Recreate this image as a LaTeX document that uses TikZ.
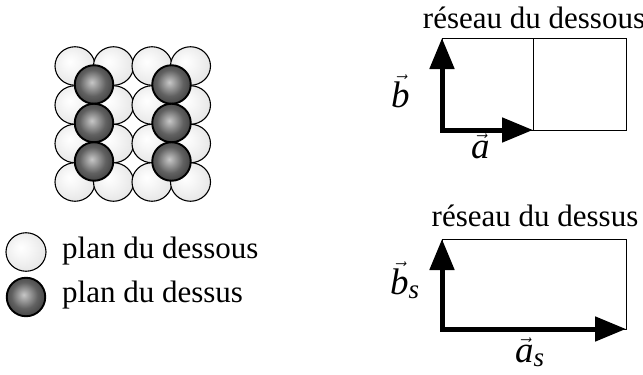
\documentclass[tikz,border=0pt]{standalone}
\usepackage{fontspec}
\setmainfont{Liberation Serif}
\usetikzlibrary{arrows.meta,shapes.geometric}

% radial shadings for the two kinds of atoms
\pgfdeclareradialshading{lightball}{\pgfpoint{-7bp}{6bp}}{%
  color(0bp)=(white); color(10bp)=(black!3); color(32bp)=(black!11); color(50bp)=(black!17)}
\pgfdeclareradialshading{darkball}{\pgfpoint{-3bp}{3bp}}{%
  color(0bp)=(black!22); color(6bp)=(black!36); color(17bp)=(black!62); color(30bp)=(black!77); color(50bp)=(black!86)}

% italic letter carrying a vector arrow, with an optional italic subscript
\newcommand{\vecit}[1]{$\vec{\hbox{\itshape #1}}$}
\newcommand{\vecsub}[2]{$\vec{\hbox{\itshape #1}}_{\hbox{\fontsize{27}{30}\selectfont\itshape #2}}$}

\tikzset{
  lowatom/.style={ellipse, minimum width=40pt, minimum height=38.5pt, inner sep=0pt,
                  draw=black, line width=1.1pt, shading=lightball},
  topatom/.style={circle, minimum size=38.5pt, inner sep=0pt,
                  draw=black, line width=1.9pt, shading=darkball},
  lbl/.style={font=\fontsize{31}{36}\selectfont, inner sep=0pt},
  veclbl/.style={font=\fontsize{37}{42}\selectfont, inner sep=0pt},
  cell/.style={draw=black, line width=1pt},
  vecpair/.style={line width=5pt, {Triangle[length=31pt,width=24pt]}-{Triangle[length=31pt,width=24pt]}}
}

\begin{document}
\begin{tikzpicture}[x=1pt,y=-1pt]
\useasboundingbox[fill=white] (0,0) rectangle (643,375);

% lower plane: 4 x 4 atoms
\foreach \r/\yy in {1/66,2/105,3/143.5,4/182}{
  \foreach \c/\xx in {1/75,2/113.5,3/152,4/190.5}{
    \node[lowatom] (low-\r-\c) at (\xx,\yy) {};
  }
}
% upper plane: 2 columns of 3 atoms
\foreach \r/\yy in {1/84.5,2/123,3/161.5}{
  \foreach \c/\xx in {1/94,2/171.5}{
    \node[topatom] (top-\r-\c) at (\xx,\yy) {};
  }
}

% legend
\node[lowatom] (leg-low) at (26,252) {};
\node[topatom] (leg-top) at (26,297) {};
\node[lbl, anchor=base west] (leg-low-txt) at (62,258) {plan du dessous};
\node[lbl, anchor=base west] (leg-top-txt) at (62,302) {plan du dessus};

% lower lattice: two unit cells
\coordinate (lo-o) at (442,130);
\coordinate (lo-b) at (442,38);
\coordinate (lo-a) at (533,130);
\coordinate (lo-ta) at (533,38);
\coordinate (lo-tr) at (626,38);
\coordinate (lo-br) at (626,130);
\draw[cell] (lo-b) -- (lo-tr) -- (lo-br) -- (lo-o) -- cycle;
\draw[cell] (lo-ta) -- (lo-a);
\draw[vecpair] (lo-b) -- (lo-o) -- (lo-a);
\node[lbl, anchor=base] (lo-title) at (534,28) {réseau du dessous};
\node[veclbl, anchor=base west] (lo-bl) at (391,107) {\vecit{b}};
\node[veclbl, anchor=base west] (lo-al) at (471,158) {\vecit{a}};

% upper lattice: one cell
\coordinate (up-o) at (442,329);
\coordinate (up-b) at (442,239);
\coordinate (up-a) at (626,329);
\coordinate (up-tr) at (626,239);
\draw[cell] (up-b) -- (up-tr) -- (up-a) -- (up-o) -- cycle;
\draw[vecpair] (up-b) -- (up-o) -- (up-a);
\node[lbl, anchor=base] (up-title) at (535,226) {réseau du dessus};
\node[veclbl, anchor=base west] (up-bl) at (390,294) {\vecsub{b}{s}};
\node[veclbl, anchor=base west] (up-al) at (515,362) {\vecsub{a}{s}};
\end{tikzpicture}
\end{document}
